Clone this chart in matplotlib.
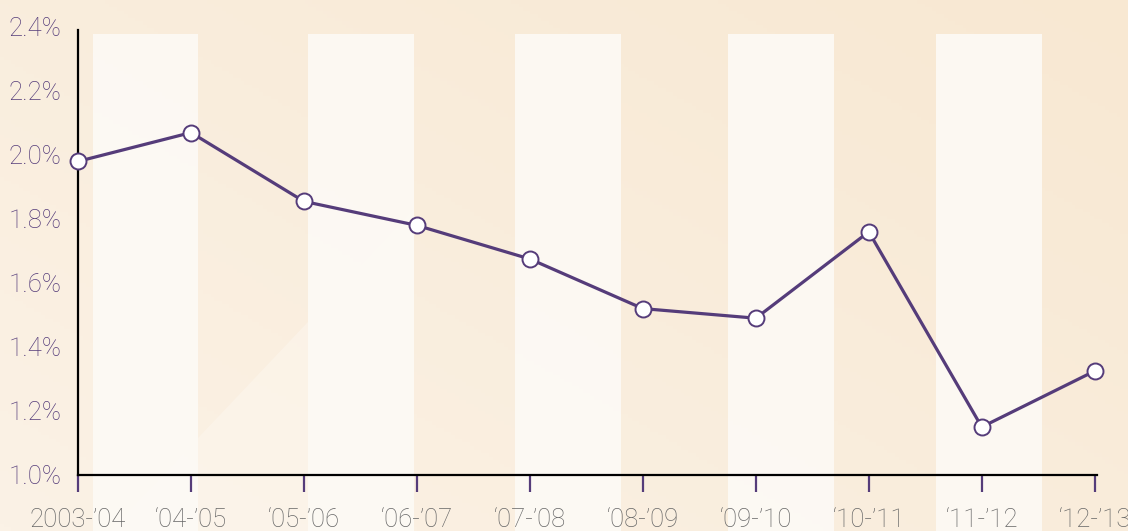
import matplotlib
matplotlib.use("Agg")
import matplotlib.pyplot as plt
import numpy as np
from matplotlib.patches import Rectangle, Polygon
from matplotlib.colors import LinearSegmentedColormap

# data
years = ["2003-’04", "‘04-’05", "‘05-’06", "‘06-’07", "‘07-’08",
         "‘08-’09", "‘09-’10", "‘10-’11", "‘11-’12", "‘12-’13"]
rate = [1.98, 2.07, 1.855, 1.78, 1.675, 1.52, 1.49, 1.76, 1.15, 1.325]
y_ticks = [1.0, 1.2, 1.4, 1.6, 1.8, 2.0, 2.2, 2.4]

purple = "#553c7a"
W, H = 1128, 531

plt.rcParams["font.family"] = ["Roboto", "DejaVu Sans"]

fig = plt.figure(figsize=(W / 100, H / 100), dpi=100)

# background: soft diagonal gradient
bg = fig.add_axes([0, 0, 1, 1], zorder=-10)
gx, gy = np.meshgrid(np.linspace(0, 1, 300), np.linspace(0, 1, 150))
grad = 0.55 * gx + 0.45 * (1 - gy)
cmap = LinearSegmentedColormap.from_list("bg", ["#fbf2e6", "#f8e8d2"])
bg.imshow(grad, cmap=cmap, extent=[0, 1, 0, 1], aspect="auto", origin="upper")
# lighter diagonal wedge (lighting effect)
bg.add_patch(Polygon([(110 / W, 0), (414 / W, 1 - 210 / H), (414 / W, 0)],
                     closed=True, color="#fdf8f1", alpha=0.45, lw=0))
# white vertical bands
for x0, x1 in [(93, 198), (308, 414), (515, 621), (728, 834), (936, 1042)]:
    bg.add_patch(Rectangle((x0 / W, 0), (x1 - x0) / W, 1 - 34 / H,
                           color="#fdfaf5", alpha=0.92, lw=0))
bg.set_xlim(0, 1)
bg.set_ylim(0, 1)
bg.axis("off")

ax = fig.add_axes([78 / W, 1 - 475 / H, (1097 - 78) / W, (475 - 27) / H])
ax.patch.set_alpha(0)

x = np.arange(len(years))
ax.plot(x, rate, color=purple, lw=2.3, marker="o", ms=11.5,
        mfc="white", mec=purple, mew=1.4, clip_on=False, zorder=5)

ax.set_xlim(0, 9.02)
ax.set_ylim(1.0, 2.4)
ax.set_yticks(y_ticks)
ax.set_yticklabels([f"{v:.1f}%" for v in y_ticks])
ax.set_xticks(x)
ax.set_xticklabels(years)

for s in ["top", "right"]:
    ax.spines[s].set_visible(False)
for s in ["left", "bottom"]:
    ax.spines[s].set_color("black")
    ax.spines[s].set_linewidth(1.6)
ax.spines["left"].set_bounds(1.0, 2.39)

ax.tick_params(axis="y", length=0, pad=12, labelsize=18.5, labelcolor=purple)
ax.tick_params(axis="x", length=12, width=1.6, color=purple, pad=12,
               labelsize=18.5, labelcolor="#666666", direction="out")
for lab in ax.get_xticklabels() + ax.get_yticklabels():
    lab.set_fontweight("light")

fig.savefig("out.png", dpi=100)
